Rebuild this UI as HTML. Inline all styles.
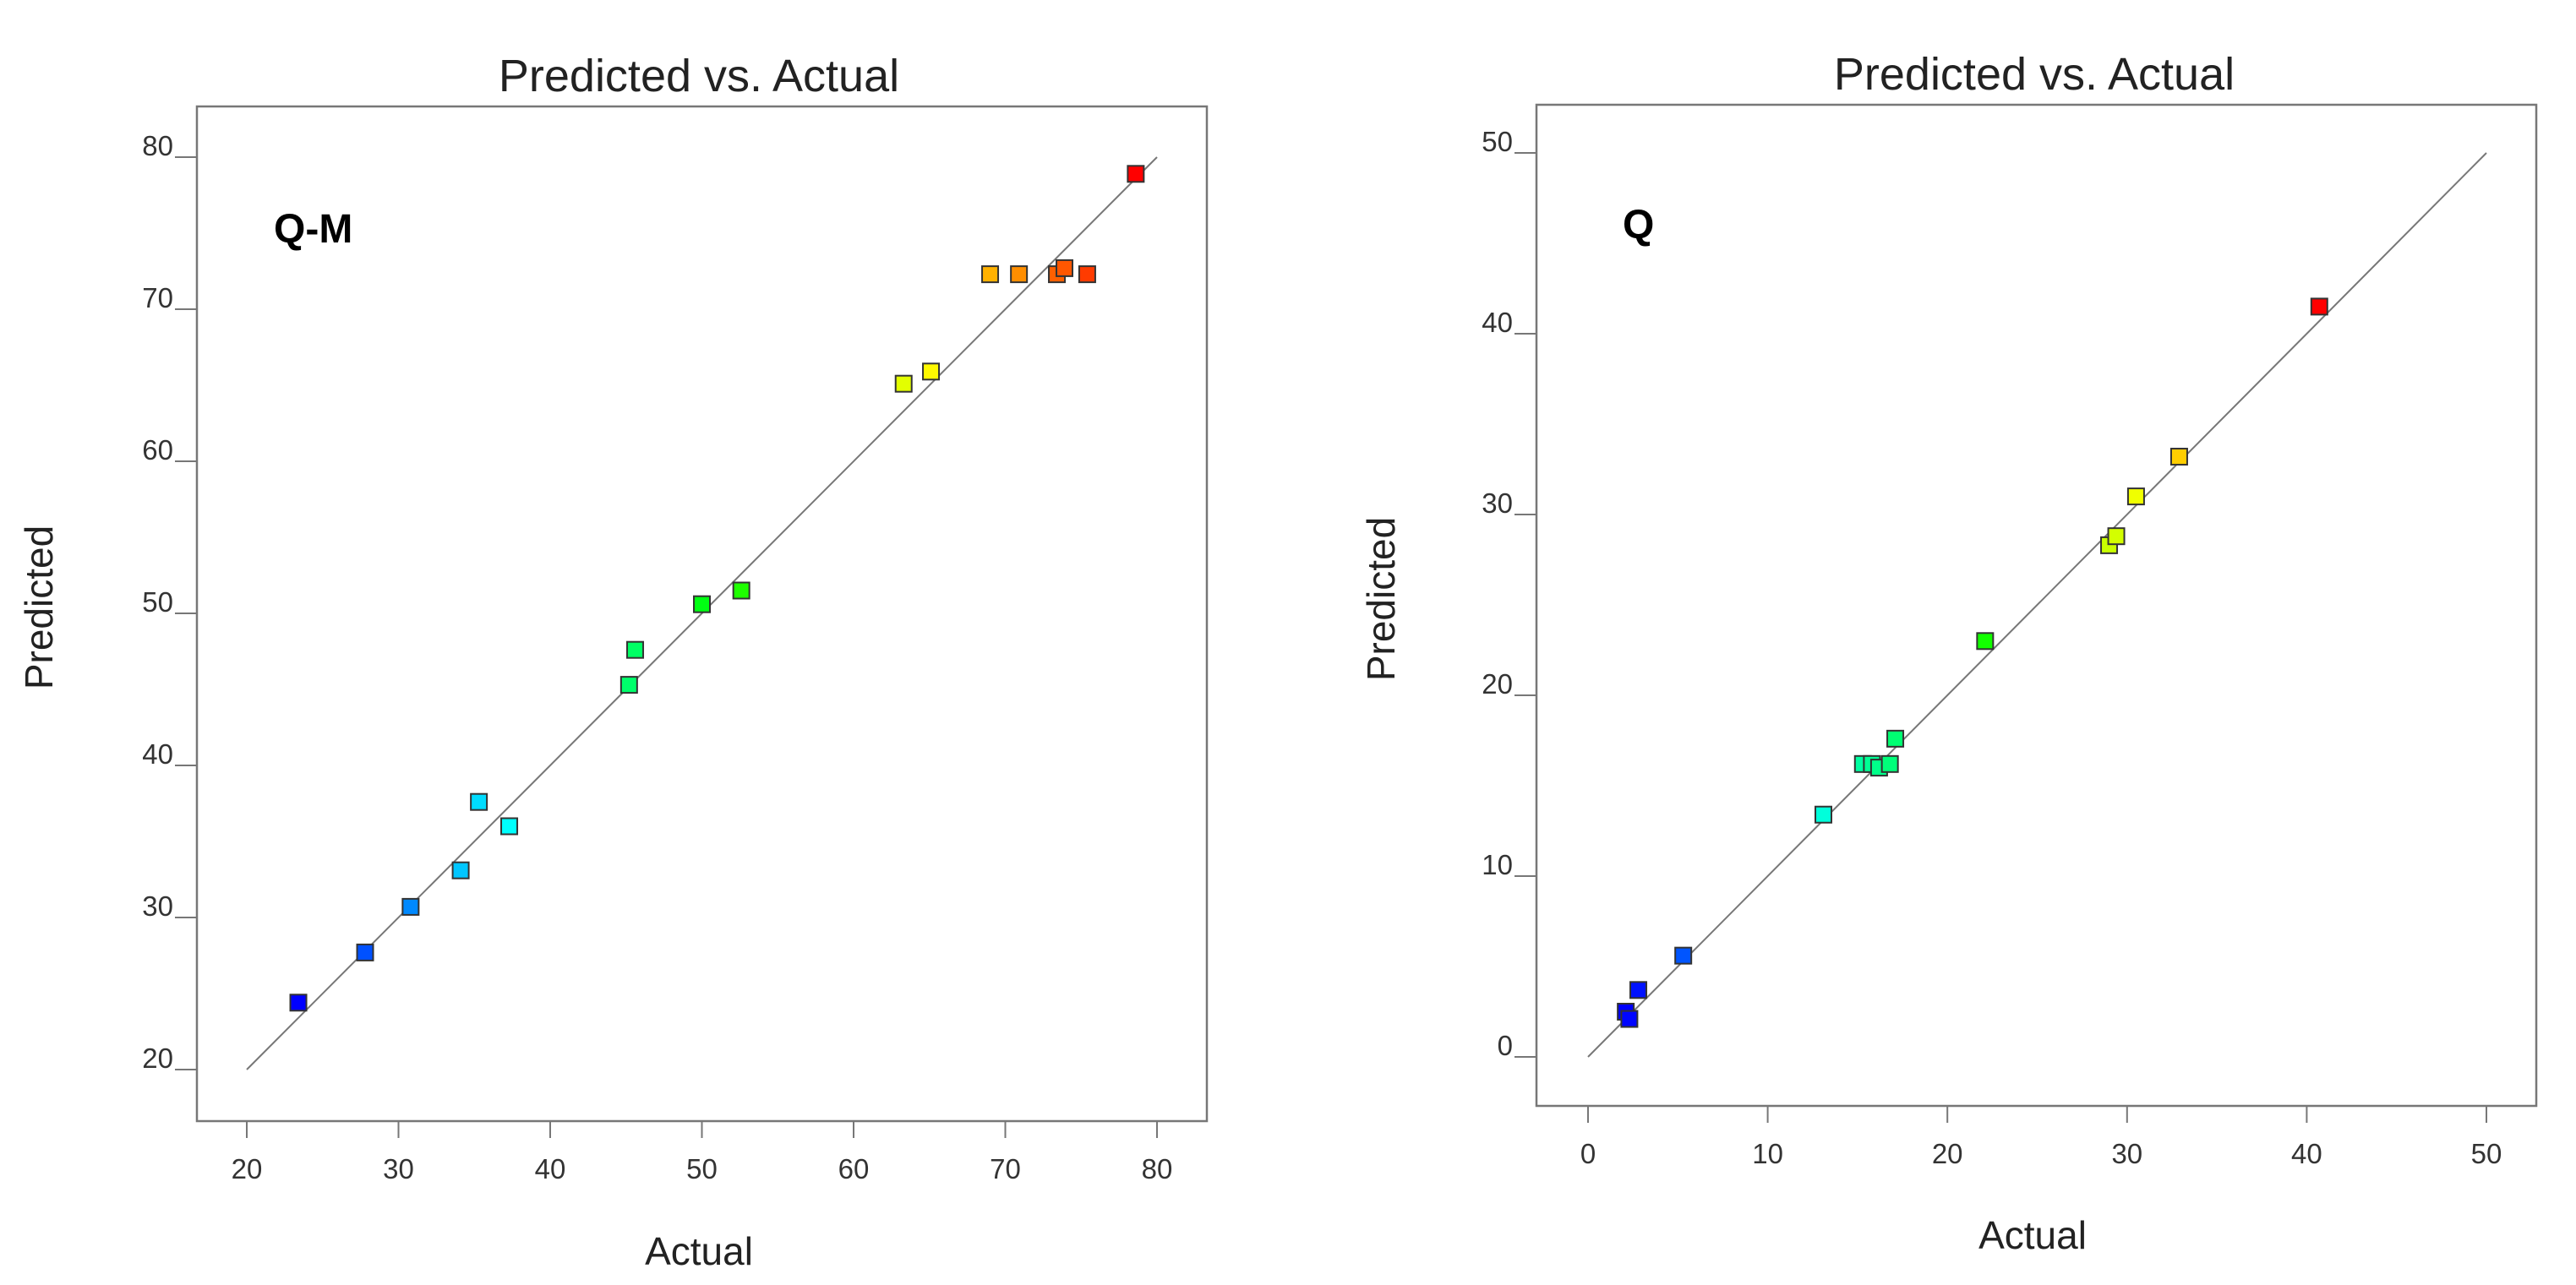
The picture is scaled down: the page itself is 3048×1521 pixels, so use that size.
<!DOCTYPE html>
<html><head><meta charset="utf-8"><style>
html,body{margin:0;padding:0;background:#fff;}
svg{display:block;font-family:"Liberation Sans","DejaVu Sans",sans-serif;}
</style></head><body>
<svg id="chart" width="3048" height="1521" viewBox="0 0 3048 1521" xmlns="http://www.w3.org/2000/svg"></svg>
<script>
// Left panel (Q-M) data
const qmActual = [23.4,27.8,30.8,34.1,35.3,37.3,45.2,45.6,50.0,52.6,63.3,65.1,69.0,70.9,73.4,73.9,75.4,78.6];
const qmPredicted = [24.4,27.7,30.7,33.1,37.6,36.0,45.3,47.6,50.6,51.5,65.1,65.9,72.3,72.3,72.3,72.7,72.3,78.9];
const qmTicks = [20,30,40,50,60,70,80];
// Right panel (Q) data
const qActual = [2.1,2.3,2.8,5.3,13.1,15.3,15.8,16.2,16.8,17.1,22.1,29.0,29.4,30.5,32.9,40.7];
const qPredicted = [2.5,2.1,3.7,5.6,13.4,16.2,16.2,16.0,16.2,17.6,23.0,28.3,28.8,31.0,33.2,41.5];
const qTicks = [0,10,20,30,40,50];

const NS = "http://www.w3.org/2000/svg";
const svg = document.getElementById('chart');
function mk(tag, attrs, parent, text){
  const e = document.createElementNS(NS, tag);
  for (const k in attrs) e.setAttribute(k, attrs[k]);
  if (text !== undefined) e.textContent = text;
  (parent||svg).appendChild(e);
  return e;
}

function panel(cfg){
  const g = mk('g', {});
  
  
  const sx = v => cfg.x0 + (v - cfg.min) / (cfg.max - cfg.min) * (cfg.x1 - cfg.x0);
  const sy = v => cfg.y0 + (v - cfg.min) / (cfg.max - cfg.min) * (cfg.y1 - cfg.y0);
  const t = mk('text', {x: cfg.titleX, y: cfg.titleY, 'font-size': 54, 'text-anchor': 'middle', fill: '#222'}, g, 'Predicted vs. Actual');
  
  
  const box = mk('rect', {x: cfg.bx0, y: cfg.by0, width: cfg.bx1 - cfg.bx0, height: cfg.by1 - cfg.by0, fill: 'none', stroke: '#777', 'stroke-width': 2.5}, g);
  
  
  cfg.ticks.forEach(v => {
    const tx = mk('line', {x1: sx(v), x2: sx(v), y1: cfg.by1, y2: cfg.by1 + 20, stroke: '#777', 'stroke-width': 2}, g);
    
    
    const lx = mk('text', {x: sx(v), y: cfg.by1 + 68, 'font-size': 33, 'text-anchor': 'middle', fill: '#333'}, g, String(v));
    
    
    const ty = mk('line', {x1: cfg.bx0 - 26, x2: cfg.bx0, y1: sy(v), y2: sy(v), stroke: '#777', 'stroke-width': 2}, g);
    
    
    const ly = mk('text', {x: cfg.bx0 - 28, y: sy(v) - 2, 'font-size': 33, 'text-anchor': 'end', fill: '#333'}, g, String(v));
    
    
  });
  const xt = mk('text', {x: cfg.xtX, y: cfg.xtY, 'font-size': 46, 'text-anchor': 'middle', fill: '#222'}, g, 'Actual');
  
  
  const yt = mk('text', {x: 0, y: 0, 'font-size': 46, 'text-anchor': 'middle', fill: '#222', transform: `translate(${cfg.ytX},${cfg.ytY}) rotate(-90)`}, g, 'Predicted');
  
  
  const lab = mk('text', {x: cfg.labX, y: cfg.labY, 'font-size': 48, 'font-weight': 'bold', fill: '#000'}, g, cfg.label);
  
  
  const ln = mk('line', {x1: sx(cfg.min), y1: sy(cfg.min), x2: sx(cfg.max), y2: sy(cfg.max), stroke: '#777', 'stroke-width': 2}, g);
  
  
  const amin = Math.min(...cfg.act), amax = Math.max(...cfg.act);
  cfg.act.forEach((a, i) => {
    const p = cfg.pred[i];
    const hue = 240 * (1 - (a - amin) / (amax - amin));
    const s = 19;
    const r = mk('rect', {x: sx(a) - s/2, y: sy(p) - s/2, width: s, height: s, fill: `hsl(${hue},100%,50%)`, stroke: '#333', 'stroke-width': 2}, g);
    
    
  });
}

panel({name:'qm-panel', act: qmActual, pred: qmPredicted, ticks: qmTicks, min: 20, max: 80,
  x0: 292, x1: 1369, y0: 1266, y1: 186, bx0: 233, by0: 126, bx1: 1428, by1: 1327,
  titleX: 827, titleY: 108, xtX: 827, xtY: 1497, ytX: 62, ytY: 719, labX: 324, labY: 287, label: 'Q-M'});
panel({name:'q-panel', act: qActual, pred: qPredicted, ticks: qTicks, min: 0, max: 50,
  x0: 1879, x1: 2942, y0: 1251, y1: 181, bx0: 1818, by0: 124, bx1: 3001, by1: 1309,
  titleX: 2407, titleY: 106, xtX: 2405, xtY: 1478, ytX: 1650, ytY: 709, labX: 1920, labY: 282, label: 'Q'});
</script>
</body></html>
